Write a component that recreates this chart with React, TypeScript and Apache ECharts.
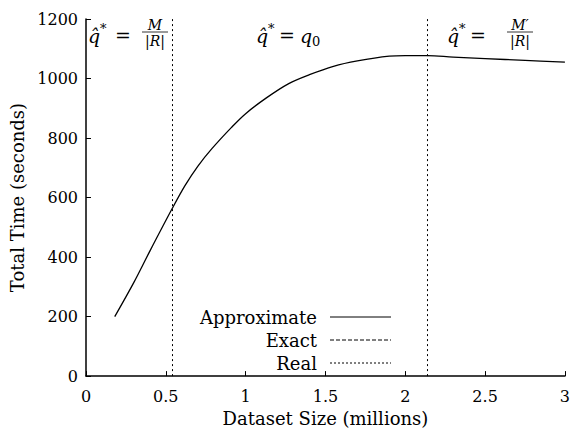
import React, { useEffect, useRef } from "react";
import * as echarts from "echarts";

const datasetSize = [0.18, 0.3, 0.4, 0.54, 0.62, 0.7, 0.79, 0.91, 1.0, 1.13, 1.27, 1.4, 1.55, 1.7, 1.9, 2.0, 2.14, 2.3, 2.5, 2.75, 3.0];
const approxTime = [200, 315, 420, 563, 640, 705, 765, 835, 882, 935, 983, 1013, 1041, 1059, 1075, 1077, 1077, 1072, 1067, 1061, 1055];
const regimeBoundaries = [0.54, 2.14];
const legendNames = ["Approximate", "Exact", "Real"];

const FONT = "DejaVu Serif";

function txt(text: string, x: number, y: number, size: number, opts: any = {}) {
  return {
    type: "text",
    silent: true,
    style: {
      text,
      x,
      y,
      fontSize: size,
      fontFamily: FONT,
      fontStyle: opts.italic ? "italic" : "normal",
      fill: "#000",
      textAlign: opts.align || "left",
      textVerticalAlign: opts.valign || "middle",
    },
  };
}

function qhatStar(x: number, y: number, eqOffset: number) {
  return [
    txt("q\u0302", x, y + 1, 19, { italic: true }),
    txt("*", x + 12, y - 7, 13),
    txt("=", x + eqOffset, y, 19),
  ];
}

function fraction(cx: number, y: number, num: string) {
  return [
    txt(num, cx, y - 10, 14, { italic: true, align: "center" }),
    {
      type: "line",
      silent: true,
      shape: { x1: cx - 13, y1: y - 3, x2: cx + 13, y2: y - 3 },
      style: { stroke: "#000", lineWidth: 0.8 },
    },
    txt("|R|", cx, y + 6, 14, { italic: true, align: "center" }),
  ];
}

export default function App() {
  const ref = useRef<HTMLDivElement>(null);
  useEffect(() => {
    if (!ref.current) return;
    const chart = echarts.init(ref.current, null, { renderer: "svg" });
    const data = datasetSize.map((x, i) => [x, approxTime[i]]);

    const legendY = [317, 340, 363];
    const legendDash: any[] = [null, [4, 2], [2, 2]];
    const legendGraphics: any[] = [];
    legendNames.forEach((n, i) => {
      legendGraphics.push(txt(n, 317, legendY[i], 18, { align: "right" }));
      legendGraphics.push({
        type: "line",
        silent: true,
        shape: { x1: 330, y1: legendY[i], x2: 391, y2: legendY[i] },
        style: { stroke: "#000", lineWidth: 1, lineDash: legendDash[i] || undefined },
      });
    });

    const annY = 35;
    const graphics: any[] = [
      ...qhatStar(88, annY, 27),
      ...fraction(155, annY, "M"),
      ...qhatStar(256, annY, 23),
      txt("q", 300, annY + 1, 19, { italic: true }),
      txt("0", 312, annY + 6, 13),
      ...qhatStar(447, annY, 23),
      ...fraction(520, annY, "M\u2032"),
      ...legendGraphics,
    ];

    chart.setOption({
      animation: false,
      grid: { left: 86, right: 7, top: 19, bottom: 53, containLabel: false },
      xAxis: {
        type: "value",
        min: 0,
        max: 3,
        interval: 0.5,
        name: "Dataset Size (millions)",
        nameLocation: "middle",
        nameGap: 24,
        nameTextStyle: { fontFamily: FONT, fontSize: 18, color: "#000" },
        axisLine: { lineStyle: { color: "#000", width: 1.5 } },
        axisTick: { inside: true, length: 5, lineStyle: { color: "#000" } },
        axisLabel: { fontFamily: FONT, fontSize: 16, color: "#000", margin: 12, formatter: (v: number) => String(v) },
        splitLine: { show: false },
      },
      yAxis: {
        type: "value",
        min: 0,
        max: 1200,
        interval: 200,
        name: "Total Time (seconds)",
        nameLocation: "middle",
        nameGap: 57,
        nameTextStyle: { fontFamily: FONT, fontSize: 18, color: "#000" },
        axisLine: { show: true, lineStyle: { color: "#000", width: 1.5 } },
        axisTick: { show: true, inside: true, length: 5, lineStyle: { color: "#000" } },
        axisLabel: { fontFamily: FONT, fontSize: 16, color: "#000", margin: 8, formatter: (v: number) => String(v) },
        splitLine: { show: false },
      },
      series: [
        {
          name: "Approximate",
          type: "line",
          data,
          smooth: 0.35,
          showSymbol: false,
          lineStyle: { color: "#000", width: 1.3 },
          markLine: {
            silent: true,
            symbol: "none",
            label: { show: false },
            lineStyle: { color: "#000", width: 1, type: [2, 3] },
            data: regimeBoundaries.map((v) => ({ xAxis: v })),
          },
        },
      ],
      graphic: graphics,
    });
    return () => chart.dispose();
  }, []);
  return <div ref={ref} style={{ width: 573, height: 432, position: "absolute", left: 0, top: 0, background: "#fff" }} />;
}
